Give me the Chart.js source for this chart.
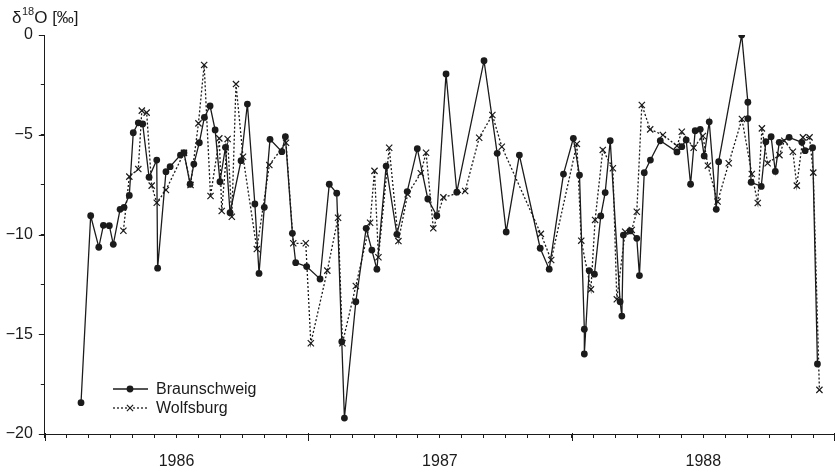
<!DOCTYPE html>
<html><head><meta charset="utf-8">
<script src="https://cdn.jsdelivr.net/npm/chart.js@4"></script>
<style>html,body{margin:0;padding:0;background:#fff}#wrap{width:835px;height:472px}</style>
</head><body><div id="wrap"><canvas id="c" width="835" height="472"></canvas></div>
<script>
// months since 1 Jan 1986
const braunschweigMonths = [1.65,2.09,2.46,2.67,2.94,3.12,3.43,3.61,3.85,4.03,4.26,4.46,4.75,5.10,5.14,5.52,5.71,6.18,6.34,6.62,6.79,7.04,7.27,7.53,7.76,7.98,8.23,8.44,8.94,9.23,9.57,9.76,10.00,10.26,10.80,10.96,11.28,11.43,11.93,12.54,12.96,13.30,13.53,13.65,14.17,14.64,14.90,15.13,15.55,16.04,16.51,16.97,17.45,17.86,18.28,18.77,20.01,20.61,21.02,21.62,22.57,22.98,23.63,24.08,24.36,24.58,24.58,24.80,25.04,25.33,25.53,25.76,26.21,26.29,26.36,26.67,26.97,27.09,27.31,27.59,28.04,28.80,29.02,29.22,29.42,29.63,29.86,30.04,30.27,30.59,30.70,31.75,32.03,32.03,32.18,32.64,32.85,33.09,33.28,33.46,33.91,34.49,34.64,34.98,35.20];
const braunschweigValues = [-18.43,-9.06,-10.64,-9.54,-9.56,-10.49,-8.74,-8.64,-8.04,-4.90,-4.40,-4.46,-7.13,-6.27,-11.69,-6.85,-6.60,-6.02,-5.90,-7.48,-6.47,-5.40,-4.13,-3.56,-4.76,-7.35,-5.63,-8.91,-6.30,-3.46,-8.47,-11.95,-8.64,-5.23,-5.85,-5.10,-9.94,-11.41,-11.61,-12.23,-7.48,-7.93,-15.37,-19.20,-13.37,-9.69,-10.78,-11.74,-6.57,-9.99,-7.85,-5.70,-8.22,-9.06,-1.95,-7.88,-1.29,-5.93,-9.87,-6.02,-10.69,-11.74,-6.97,-5.18,-7.02,-14.75,-15.99,-11.81,-11.99,-9.07,-7.90,-5.30,-13.37,-14.09,-10.03,-9.82,-10.19,-12.06,-6.90,-6.27,-5.30,-5.86,-5.60,-5.26,-7.48,-4.80,-4.73,-6.06,-4.35,-8.74,-6.35,0,-3.37,-4.19,-7.38,-7.59,-5.35,-5.10,-6.84,-5.38,-5.13,-5.38,-5.80,-5.65,-16.49];
const wolfsburgMonths = [3.58,3.85,4.26,4.42,4.64,4.87,5.10,5.52,6.34,6.64,7.00,7.26,7.55,7.95,8.06,8.33,8.52,8.71,9.03,9.66,10.23,10.99,11.32,11.89,12.12,12.87,13.36,13.56,14.17,14.82,15.02,15.20,15.69,16.11,16.53,17.13,17.37,17.70,18.16,19.15,19.79,20.39,20.82,22.60,23.07,24.24,24.44,24.88,25.07,25.42,25.88,26.06,26.44,26.74,26.97,27.20,27.58,28.16,28.80,29.02,29.56,29.98,30.21,30.65,31.16,31.76,32.21,32.48,32.67,32.93,33.47,33.69,34.08,34.26,34.54,34.84,35.01,35.29];
const wolfsburgValues = [-9.81,-7.10,-6.72,-3.79,-3.89,-7.55,-8.41,-7.77,-5.91,-7.52,-4.43,-1.50,-8.07,-5.18,-8.82,-5.21,-9.11,-2.46,-6.10,-10.73,-6.52,-5.40,-10.44,-10.44,-15.45,-11.81,-9.16,-15.45,-12.58,-9.41,-6.81,-11.14,-5.65,-10.33,-7.98,-6.93,-5.90,-9.69,-8.14,-7.82,-5.15,-4.01,-5.60,-9.97,-11.28,-5.46,-10.31,-12.75,-9.27,-5.76,-6.68,-13.25,-9.86,-9.77,-8.86,-3.51,-4.73,-5.01,-5.56,-4.85,-5.65,-5.06,-6.55,-8.35,-6.43,-4.21,-6.97,-8.42,-4.68,-6.43,-6.02,-5.30,-5.85,-7.55,-5.13,-5.13,-6.90,-17.79];
const yearTickLabels = ['1986','1987','1988'];
const yearLabelMonths = [6,18,30];
const yearBoundaryMonths = [0,12,24,36];
const seriesNames = ['Braunschweig','Wolfsburg'];

const INK = '#1b1b1b';
const FONT = '"Liberation Sans", Arial, sans-serif';
function pts(xs, ys){ const n=Math.min(xs.length,ys.length); const a=[]; for(let i=0;i<n;i++) a.push({x:xs[i],y:ys[i]}); return a; }

const extras = {
  id:'extras',
  afterDraw(chart){
    const c = chart.ctx, xs = chart.scales.x, ys = chart.scales.y, area = chart.chartArea;
    c.save();
    c.strokeStyle = INK; c.lineWidth = 1;
    yearBoundaryMonths.forEach(m=>{
      const px = Math.min(Math.round(xs.getPixelForValue(m))+0.5, 834.5);
      c.beginPath(); c.moveTo(px, area.bottom-1); c.lineTo(px, area.bottom+7); c.stroke();
    });
    [0,-5,-10,-15,-20].forEach(v=>{
      const py = Math.round(ys.getPixelForValue(v))+0.5;
      c.beginPath(); c.moveTo(area.left-6, py); c.lineTo(area.left, py); c.stroke();
    });
    // axis title
    c.fillStyle = INK; c.textBaseline = 'alphabetic'; c.textAlign='left';
    c.font = '17px '+FONT;
    let x = 12;
    c.fillText('δ', x, 23); x += c.measureText('δ').width;
    c.font = '11px '+FONT;
    c.fillText('18', x+0.5, 15); x += c.measureText('18').width+0.5;
    c.font = '17px '+FONT;
    c.fillText('O [‰]', x, 23);
    // legend
    const rows = [389, 408];
    const ds = chart.data.datasets;
    rows.forEach((ry, i)=>{
      c.save();
      c.strokeStyle = INK; c.lineWidth = ds[i].borderWidth;
      c.setLineDash(ds[i].borderDash || []);
      c.beginPath(); c.moveTo(113, ry); c.lineTo(148, ry); c.stroke();
      c.restore();
      if (ds[i].pointStyle==='circle'){ c.fillStyle=INK; c.beginPath(); c.arc(130,ry,ds[i].pointRadius,0,Math.PI*2); c.fill(); }
      else { c.strokeStyle=INK; c.lineWidth=1.2; Chart.helpers.drawPoint(c,{pointStyle:'crossRot',radius:ds[i].pointRadius,borderWidth:1.2},130,ry); }
      c.fillStyle = INK; c.font = '16px '+FONT; c.textBaseline='middle';
      c.fillText(seriesNames[i], 156, ry+1);
    });
    c.restore();
  }
};

new Chart(document.getElementById('c'), {
  type:'scatter',
  data:{ datasets:[
    { label:seriesNames[0], data:pts(braunschweigMonths, braunschweigValues), showLine:true,
      borderColor:INK, backgroundColor:INK, borderWidth:1.3, pointStyle:'circle', pointRadius:3.4,
      pointBackgroundColor:INK, pointBorderColor:INK, pointBorderWidth:0, tension:0, order:1 },
    { label:seriesNames[1], data:pts(wolfsburgMonths, wolfsburgValues), showLine:true,
      borderColor:INK, backgroundColor:INK, borderWidth:1.3, borderDash:[2,2], pointStyle:'crossRot', pointRadius:4.4,
      pointBorderColor:INK, pointBorderWidth:1.2, tension:0, order:2 }
  ]},
  options:{
    responsive:false, animation:false, devicePixelRatio:1,
    layout:{ autoPadding:false, padding:{ top:35, right:0, left:0, bottom:0 } },
    plugins:{ legend:{display:false}, tooltip:{enabled:false} },
    scales:{
      x:{ type:'linear', min:0, max:36, position:'bottom',
        afterFit(s){ s.height = 38; s.paddingLeft = 0; s.paddingRight = 0; },
        grid:{ drawOnChartArea:false, drawTicks:true, tickLength:4, color:INK, lineWidth:1 },
        border:{ display:true, color:INK, width:1 },
        ticks:{ stepSize:1, autoSkip:false, maxRotation:0, minRotation:0, padding:14, color:INK,
          font:{ family:FONT, size:16 },
          callback(v){ const i = yearLabelMonths.indexOf(v); return i>=0 ? yearTickLabels[i] : ''; } } },
      y:{ min:-20, max:0,
        afterFit(s){ s.width = 44.8; },
        grid:{ drawOnChartArea:false, drawTicks:true, tickLength:4, color:INK, lineWidth:1 },
        border:{ display:true, color:INK, width:1 },
        ticks:{ stepSize:2.5, autoSkip:false, padding:8, color:INK, font:{ family:FONT, size:16 },
          callback(v){ if (Math.abs(v%5)>1e-9) return ''; return v===0 ? '0' : '\u2212'+Math.abs(v); } } }
    }
  },
  plugins:[extras]
});
</script></body></html>
